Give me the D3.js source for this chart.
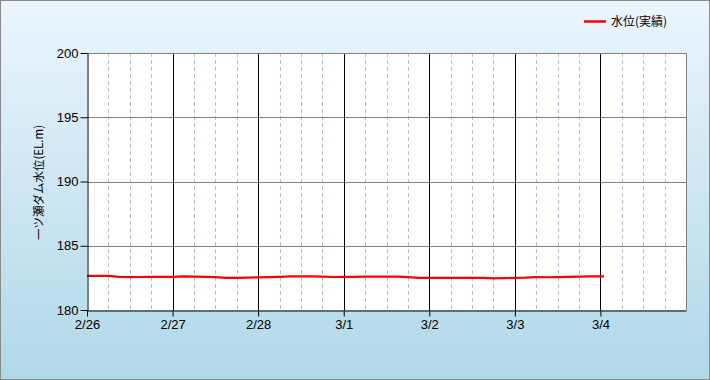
<!DOCTYPE html>
<html>
<head>
<meta charset="utf-8">
<script src="https://cdn.jsdelivr.net/npm/d3@7"></script>
<style>
  body { margin: 0; }
  svg { display: block; }
</style>
</head>
<body>
<script>
var width = 710
var height = 380
var margin = { left: 87, right: 24, top: 53, bottom: 70 }
var innerWidth = width - margin.left - margin.right
var innerHeight = height - margin.top - margin.bottom

// 3-hourly water level readings starting 2/26 00:00
var startTime = new Date(2023, 1, 26, 0)
var levels = [
  182.66, 182.66, 182.66, 182.58, 182.56, 182.57, 182.58, 182.58,
  182.58, 182.62, 182.60, 182.58, 182.56, 182.50, 182.50, 182.52,
  182.54, 182.56, 182.58, 182.61, 182.62, 182.62, 182.60, 182.57,
  182.58, 182.58, 182.60, 182.60, 182.60, 182.60, 182.56, 182.50,
  182.50, 182.50, 182.51, 182.50, 182.50, 182.50, 182.46, 182.48,
  182.50, 182.52, 182.56, 182.55, 182.56, 182.58, 182.60, 182.61,
  182.62
]
var lastTime = new Date(2023, 2, 4, 1)
var lastLevel = 182.62
var yTicks = [180, 185, 190, 195, 200]
var seriesName = '水位(実績)'
var yTitle = '一ツ瀬ダム水位(EL.m)'

var data = levels.map((v, i) => ({ t: d3.timeHour.offset(startTime, i * 3), v: v }))
data.push({ t: lastTime, v: lastLevel })

var svg = d3.select('body').append('svg').attr('width', width).attr('height', height)

var grad = svg.append('defs').append('linearGradient').attr('id', 'bg')
  .attr('x1', 0).attr('y1', 0).attr('x2', 0).attr('y2', 1)
grad.append('stop').attr('offset', '0%').attr('stop-color', '#ebf5fd')
grad.append('stop').attr('offset', '100%').attr('stop-color', '#b0d8e8')

svg.append('rect').attr('x', 0.5).attr('y', 0.5).attr('width', width - 1).attr('height', height - 1)
  .attr('fill', 'url(#bg)').attr('stroke', '#8a8a8a')

var g = svg.append('g').attr('transform', `translate(${margin.left}, ${margin.top})`)

var xScale = d3.scaleTime()
  .domain([new Date(2023, 1, 26), new Date(2023, 2, 5)])
  .range([0, innerWidth])
var yScale = d3.scaleLinear().domain([180, 200]).range([innerHeight, 0])

g.append('rect').attr('width', innerWidth).attr('height', innerHeight).attr('fill', '#fff')

// minor dashed lines every 6 hours
var minor = d3.timeHour.every(6).range(xScale.domain()[0], xScale.domain()[1])
  .filter(d => d.getHours() !== 0)
g.selectAll('.minor').data(minor).enter().append('line')
  .attr('x1', d => Math.round(xScale(d)) + 0.5).attr('x2', d => Math.round(xScale(d)) + 0.5)
  .attr('y1', 0).attr('y2', innerHeight)
  .attr('stroke', '#adc1de').attr('stroke-dasharray', '4,3')

// horizontal grid
g.selectAll('.hgrid').data(yTicks.slice(1, -1)).enter().append('line')
  .attr('x1', 0).attr('x2', innerWidth)
  .attr('y1', d => Math.round(yScale(d)) + 0.5).attr('y2', d => Math.round(yScale(d)) + 0.5)
  .attr('stroke', '#808080')

// major day lines
var days = d3.timeDay.range(d3.timeDay.offset(xScale.domain()[0], 1), xScale.domain()[1])
g.selectAll('.major').data(days).enter().append('line')
  .attr('x1', d => Math.round(xScale(d)) + 0.5).attr('x2', d => Math.round(xScale(d)) + 0.5)
  .attr('y1', 0).attr('y2', innerHeight)
  .attr('stroke', '#000')

// top & right border
g.append('path').attr('d', `M0.5,0.5H${innerWidth + 0.5}V${innerHeight}`)
  .attr('fill', 'none').attr('stroke', '#808080')

var line = d3.line().x(d => xScale(d.t)).y(d => yScale(d.v))
g.append('path').datum(data).attr('d', line)
  .attr('fill', 'none').attr('stroke', '#ff0000').attr('stroke-width', 2.2)
  .attr('stroke-linejoin', 'round')

var font = '"Liberation Sans", Arial, sans-serif'

var yAxis = d3.axisLeft(yScale).tickValues(yTicks).tickSize(7).tickPadding(2).tickSizeOuter(0)
var gy = g.append('g').attr('transform', 'translate(0.5,0)').call(yAxis)
gy.select('.domain').attr('stroke', '#000')
gy.selectAll('.tick line').attr('stroke', '#000')
gy.selectAll('text').attr('font-family', font).attr('font-size', 13).attr('fill', '#000')

var xTickVals = d3.timeDay.range(xScale.domain()[0], xScale.domain()[1])
var xAxis = d3.axisBottom(xScale).tickValues(xTickVals)
  .tickFormat(d3.timeFormat('%-m/%-d')).tickSize(6).tickPadding(3).tickSizeOuter(0)
var gx = g.append('g').attr('transform', `translate(0,${innerHeight + 0.5})`).call(xAxis)
gx.select('.domain').attr('stroke', '#000')
gx.selectAll('.tick line').attr('stroke', '#000')
gx.selectAll('text').attr('font-family', font).attr('font-size', 13).attr('fill', '#000')

svg.append('text').text(yTitle)
  .attr('transform', `translate(43,${margin.top + innerHeight / 2 + 1}) rotate(-90)`)
  .attr('text-anchor', 'middle')
  .attr('font-family', '"Noto Sans CJK JP", sans-serif').attr('font-size', 11.5).attr('fill', '#000')

// legend
svg.append('line').attr('x1', 584).attr('x2', 606).attr('y1', 21.5).attr('y2', 21.5)
  .attr('stroke', '#ff0000').attr('stroke-width', 2.5)
svg.append('text').text(seriesName).attr('x', 611).attr('y', 26)
  .attr('font-family', '"Noto Sans CJK JP", sans-serif').attr('font-size', 12).attr('fill', '#000')
</script>
</body>
</html>
